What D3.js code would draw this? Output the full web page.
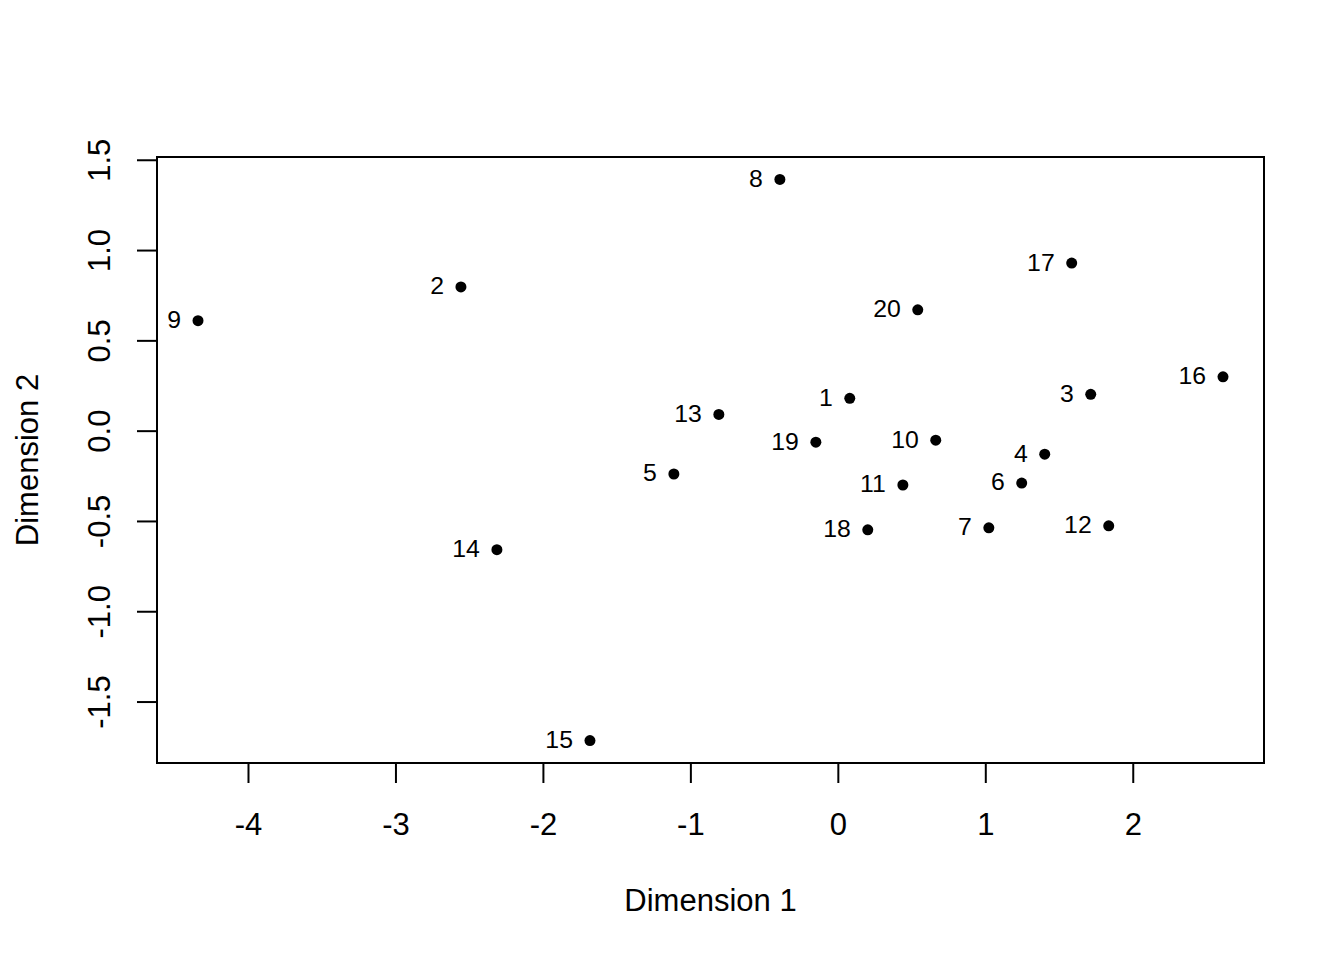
<!DOCTYPE html>
<html>
<head>
<meta charset="utf-8">
<script src="https://cdn.jsdelivr.net/npm/d3@7"></script>
<style>
  body { margin: 0; background: #fff; }
  text { font-family: "Liberation Sans", Arial, Helvetica, sans-serif; fill: #000; }
</style>
</head>
<body>
<div id="chart"></div>
<script>
// chart size and plot box (base R style margins)
const width = 1344;
const height = 960;
const margin = {left: 157, right: 80, top: 157, bottom: 197};

// point labels and coordinates
const labels = ["1","2","3","4","5","6","7","8","9","10",
                "11","12","13","14","15","16","17","18","19","20"];
const dim1 = [0.081, -2.556, 1.715, 1.403, -1.112, 1.247, 1.024, -0.393, -4.339, 0.664,
              0.441, 1.837, -0.807, -2.312, -1.681, 2.612, 1.586, 0.203, -0.149, 0.542];
const dim2 = [0.179, 0.796, 0.201, -0.130, -0.240, -0.290, -0.538, 1.391, 0.609, -0.053,
              -0.301, -0.527, 0.090, -0.659, -1.716, 0.298, 0.928, -0.549, -0.064, 0.669];

// tick labels
const xTicks = [-4, -3, -2, -1, 0, 1, 2];
const yTicks = [-1.5, -1.0, -0.5, 0.0, 0.5, 1.0, 1.5];

const points = labels.map((l, i) => ({label: l, x: dim1[i], y: dim2[i]}));

const svg = d3.select("#chart")
  .append("svg")
  .attr("width", width)
  .attr("height", height);

// R pads the data range by 4% on each side
function padded(vals) {
  const lo = d3.min(vals), hi = d3.max(vals);
  const pad = (hi - lo) * 0.04;
  return [lo - pad, hi + pad];
}

const xScale = d3.scaleLinear()
  .domain(padded(dim1))
  .range([margin.left, width - margin.right]);

const yScale = d3.scaleLinear()
  .domain(padded(dim2))
  .range([height - margin.bottom, margin.top]);

const bottom = height - margin.bottom;

// x axis
const xAxis = svg.append("g")
  .attr("transform", `translate(0,${bottom})`)
  .call(d3.axisBottom(xScale).tickValues(xTicks).tickSize(20).tickFormat(d3.format("d")));
xAxis.select(".domain").remove();
xAxis.selectAll(".tick line").attr("stroke", "#000").attr("stroke-width", 2);
xAxis.selectAll(".tick text")
  .attr("y", 72).attr("dy", null)
  .attr("font-size", 31)
  .attr("font-family", null)
  .text(d => d < 0 ? "-" + Math.abs(d) : d);
xAxis.append("line")
  .attr("x1", xScale(xTicks[0])).attr("x2", xScale(xTicks[xTicks.length - 1]))
  .attr("stroke", "#000").attr("stroke-width", 2);

// y axis with rotated labels
const yAxis = svg.append("g")
  .attr("transform", `translate(${margin.left},0)`)
  .call(d3.axisLeft(yScale).tickValues(yTicks).tickSize(20));
yAxis.select(".domain").remove();
yAxis.selectAll(".tick line").attr("stroke", "#000").attr("stroke-width", 2);
yAxis.selectAll(".tick text")
  .attr("x", null).attr("dy", null)
  .attr("transform", "translate(-47,0) rotate(-90)")
  .attr("text-anchor", "middle")
  .attr("font-size", 31)
  .attr("font-family", null)
  .text(d => (d < 0 ? "-" : "") + Math.abs(d).toFixed(1));
yAxis.append("line")
  .attr("y1", yScale(yTicks[0])).attr("y2", yScale(yTicks[yTicks.length - 1]))
  .attr("stroke", "#000").attr("stroke-width", 2);

// plot box
svg.append("rect")
  .attr("x", margin.left)
  .attr("y", margin.top)
  .attr("width", width - margin.left - margin.right)
  .attr("height", height - margin.top - margin.bottom)
  .attr("fill", "none")
  .attr("stroke", "#000")
  .attr("stroke-width", 2);

// points
svg.selectAll(".pt")
  .data(points)
  .enter()
  .append("circle")
    .attr("class", "pt")
    .attr("cx", d => xScale(d.x))
    .attr("cy", d => yScale(d.y))
    .attr("r", 5.5)
    .attr("fill", "#000");

// labels to the left of each point
svg.selectAll(".lab")
  .data(points)
  .enter()
  .append("text")
    .attr("class", "lab")
    .attr("x", d => xScale(d.x) - 17)
    .attr("y", d => yScale(d.y))
    .attr("dy", "0.3em")
    .attr("text-anchor", "end")
    .attr("font-size", 24.8)
    .text(d => d.label);

// axis titles
svg.append("text")
  .attr("x", (margin.left + width - margin.right) / 2)
  .attr("y", 911)
  .attr("text-anchor", "middle")
  .attr("font-size", 31)
  .text("Dimension 1");

svg.append("text")
  .attr("transform", `translate(38,${(margin.top + height - margin.bottom) / 2}) rotate(-90)`)
  .attr("text-anchor", "middle")
  .attr("font-size", 31)
  .text("Dimension 2");
</script>
</body>
</html>
